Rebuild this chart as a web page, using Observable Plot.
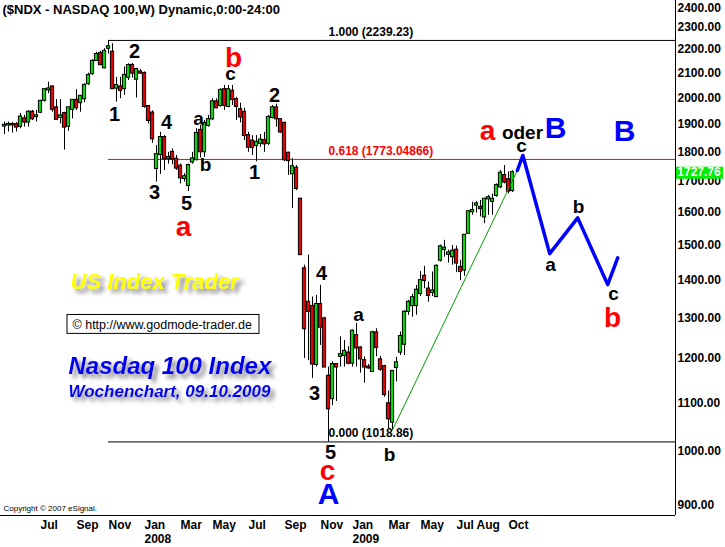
<!DOCTYPE html>
<html><head><meta charset="utf-8">
<script src="https://cdn.jsdelivr.net/npm/d3@7"></script>
<script src="https://cdn.jsdelivr.net/npm/@observablehq/plot@0.6"></script>
<style>
body{margin:0;background:#fff;}
#chart svg{display:block;}
</style>
</head><body><div id="chart"></div>
<script>
// ---- data (weekly NASDAQ 100, first week ends 2007-05-04) ----
const weekStart = "2007-05-04";
const open = [
1893,1897,1899,1898,1892,1920,1908,1945,1928,1945,
1991,2032,2044,1962,1925,1940,1892,1956,1991,1982,
1997,2057,2098,2153,2183,2122,2205,2188,2039,2044,
2037,2083,2132,2075,2105,2099,1967,1942,1742,1790,
1851,1776,1798,1774,1750,1708,1685,1764,1772,1877,
1800,1895,1920,1985,1971,2033,1967,2027,1994,1955,
1945,1858,1838,1822,1830,1840,1830,1925,1962,1917,
1903,1795,1724,1743,1640,1431,1340,1329,1186,1334,
1297,1159,1109,1186,1205,1207,1213,1189,1255,1225,
1195,1180,1170,1262,1197,1181,1098,1059,1179,1215,
1234,1316,1331,1331,1363,1410,1375,1366,1355,1455,
1486,1472,1465,1484,1435,1427,1534,1600,1621,1614,
1584,1641,1633,1652,1680,1718,1704,1668];
const high = [
1908,1908,1906,1906,1940,1933,1952,1952,1952,1991,
2037,2063,2048,1994,1994,1945,1964,1994,2033,2010,
2057,2100,2156,2188,2192,2203,2239.23,2225,2083,2083,
2125,2139,2140,2120,2115,2105,1970,1950,1822,1870,
1858,1798,1810,1787,1757,1724,1757,1798,1883,1895,
1914,1933,1997,1997,2037,2050,2050,2050,2003,1980,
1960,1870,1858,1858,1862,1870,1933,1971,1976,1920,
1908,1798,1776,1752,1643,1441,1470,1354,1358,1385,
1301,1180,1192,1188,1252,1243,1228,1269,1285,1228,
1204,1186,1266,1272,1205,1184,1126,1172,1203,1264,
1318,1345,1361,1385,1423,1438,1394,1422,1442,1499,
1513,1484,1498,1496,1455,1528,1604,1630,1633,1636,
1643,1652,1657,1690,1735,1752,1730,1734];
const low = [
1862,1871,1867,1871,1883,1889,1889,1914,1908,1940,
1984,2017,1945,1914,1901,1806,1874,1920,1952,1945,
1982,2050,2091,2150,2132,2118,2180,2033,1984,1997,
2010,2070,2080,2000,2095,1960,1901,1830,1696,1722,
1735,1757,1755,1735,1690,1696,1665,1757,1769,1778,
1780,1889,1914,1958,1964,1952,1962,1971,1914,1905,
1840,1798,1787,1765,1816,1798,1822,1920,1889,1866,
1765,1718,1610,1668,1469,1200,1195,1154,1180,1231,
1180,1018.86,1094,1103,1180,1180,1185,1180,1180,1166,
1143,1175,1170,1204,1170,1112,1046,1043,1146,1207,
1207,1306,1301,1306,1355,1376,1340,1355,1352,1450,
1464,1447,1441,1420,1398,1410,1533,1589,1596,1584,
1563,1589,1589,1646,1674,1690,1657,1662];
const close = [
1896,1899,1897,1889,1927,1908,1945,1920,1932,1987,
2033,2036,1956,1918,1931,1889,1962,1991,1962,2007,
2050,2091,2149,2178,2135,2192,2212,2037,2050,2030,
2091,2132,2100,2115,2100,1967,1914,1846,1790,1851,
1775,1780,1774,1743,1710,1714,1752,1775,1866,1800,
1903,1917,1985,1962,2030,1971,2033,1994,1967,1927,
1858,1816,1815,1834,1842,1828,1925,1962,1920,1871,
1772,1769,1748,1675,1471,1272,1316,1187,1334,1276,
1180,1087,1186,1180,1209,1217,1189,1266,1225,1199,
1180,1178,1262,1226,1175,1118,1066,1170,1190,1253,
1314,1340,1352,1372,1398,1398,1358,1370,1438,1494,
1490,1476,1481,1447,1423,1528,1600,1604,1625,1610,
1640,1645,1640,1685,1726,1696,1666,1727.76];

const priceTicks = [900,1000,1100,1200,1300,1400,1500,1600,1700,1800,1900,2000,2100,2200,2300,2400];
const monthTickDates = ["2007-07-06","2007-09-07","2007-11-02","2008-01-04","2008-03-07","2008-05-02","2008-07-04","2008-09-05","2008-11-07","2009-01-02","2009-03-06","2009-05-01","2009-07-03","2009-08-07","2009-10-02"];
const monthTickNames = ["Jul","Sep","Nov","Jan","Mar","May","Jul","Sep","Nov","Jan","Mar","May","Jul","Aug","Oct"];
const yearTickDates = ["2008-01-04","2009-01-02"];
const yearTickNames = ["2008","2009"];
const fibRatios = [1.000, 0.618, 0.000];

// trendline and forecast path (week index, price)
const trendWeeks = [97, 128.2];
const trendPrices = [1043, 1735];
const forecastWeeks = [128.2, 129.6, 136.3, 143.3, 150.8, 153.3];
const forecastPrices = [1735, 1787, 1474, 1581, 1387, 1462];

// wave labels: text, week index, price, degree
const waveText   = ["1","2","3","4","5","a","a","b","c","b","1","2","3","4","5","c","A","a","b","a","oder","B","c","a","b","c","B","b"];
const waveWeek   = [27.5,32.5,37.5,40.5,45.5,44.75,48.5,50.25,56.5,57.25,62.5,67.5,77.5,79.25,81.5,80.75,81,88.5,96.25,120.75,129.5,137.75,129.25,136.5,143.5,152.25,155,152];
const wavePrice  = [1937,2192,1662,1906,1626,1552,1918,1755,2095,2162,1728,2010,1120,1418,998,963,919,1308,994,1873,1869,1884,1822,1441,1617,1361,1873,1300];
const waveDegree = ["n","n","n","n","n","r","l","l","l","r","n","n","n","n","n","r","p","l","l","r","l","p","l","l","l","l","p","r"];

// ---- build ----
const DAY = 864e5;
const widx = d => Math.round((Date.parse(d) - Date.parse(weekStart)) / (7 * DAY));
const candles = open.map((o, i) => ({i, o, h: high[i], l: low[i], c: close[i]}));
const hi = d3.max(high), lo = d3.min(low);
const peakIdx = d3.maxIndex(high), lowIdx = d3.minIndex(low);
const fibs = fibRatios.map(r => {
  const level = lo + r * (hi - lo);
  return {level, color: r === 0.618 ? "#ff0000" : "#000000",
          label: `${r.toFixed(3)} (${String(+level.toFixed(5))})`};
});
const monthIdx = monthTickDates.map(widx);
const monthName = new Map(monthIdx.map((v, k) => [v, monthTickNames[k]]));
const yearIdx = yearTickDates.map(widx);
const yearName = new Map(yearIdx.map((v, k) => [v, yearTickNames[k]]));
const trend = trendWeeks.map((w, k) => ({w, p: trendPrices[k]}));
const forecast = forecastWeeks.map((w, k) => ({w, p: forecastPrices[k]}));
const degreeStyle = {
  n: {fill: "#000000", size: 20},
  l: {fill: "#000000", size: 19},
  r: {fill: "#ff0000", size: 28},
  p: {fill: "#0000ff", size: 30}
};
const waves = waveText.map((t, k) => ({t, w: waveWeek[k], p: wavePrice[k], d: waveDegree[k]}));
const lastClose = close[close.length - 1];
const topTick = d3.max(priceTicks);

const xMax = 167.75;
const yDomain = [881.96, 2421.6];
const GREEN = "#00dd00", RED = "#e80000";
const YELLOW = "#ffff00", BLUE_TXT = "#0000f0";

const overlay = (text, dx, dy, o = {}) => Plot.text([text], {frameAnchor: "top-left", dx, dy, textAnchor: "start", lineAnchor: "middle", ...o});

const chart = Plot.plot({
  width: 725, height: 547,
  marginTop: 0, marginRight: 50, marginBottom: 32, marginLeft: 0,
  style: {fontFamily: "'Liberation Sans', Arial, sans-serif", fontSize: "12px", fontWeight: "bold", color: "#000", background: "#fff", overflow: "visible"},
  x: {domain: [-1, xMax], axis: null},
  y: {type: "log", domain: yDomain, axis: null},
  color: {type: "identity"},
  marks: [
    // watermark texts (drop shadow added below)
    overlay("US Index Trader", 70, 281, {fill: YELLOW, fontSize: 22, fontStyle: "italic", ariaDescription: "shadowed"}),
    overlay("Nasdaq 100 Index", 68, 366, {fill: BLUE_TXT, fontSize: 24, fontStyle: "italic", ariaDescription: "shadowed"}),
    overlay("Wochenchart, 09.10.2009", 68, 391.5, {fill: BLUE_TXT, fontSize: 17, fontStyle: "italic", ariaDescription: "shadowed"}),
    Plot.rect([0], {x1: () => 15.75, x2: () => 63.75, y1: () => 1259.3, y2: () => 1306.9, fill: "#fff", stroke: "#000", strokeWidth: 1}),
    overlay("\u00a9 http://www.godmode-trader.de", 72, 324, {fill: "#000", fontSize: 12.5, fontWeight: "normal"}),
    overlay("($NDX - NASDAQ 100,W) Dynamic,0:00-24:00", 2, 9, {fill: "#000", fontSize: 13}),
    overlay("Copyright \u00a9 2007 eSignal.", 3, 507.5, {fill: "#000", fontSize: 8, fontWeight: "normal"}),
    // fibonacci levels
    Plot.ruleY(fibs, {y: "level", x1: () => peakIdx, x2: () => xMax, stroke: "color", strokeWidth: 1}),
    Plot.text(fibs, {y: "level", x: () => lowIdx, text: "label", fill: "color", textAnchor: "start", lineAnchor: "middle", dy: -8.5, fontSize: 12}),
    // candles
    Plot.ruleX(candles, {x: "i", y1: "l", y2: "h", stroke: "#000", strokeWidth: 1}),
    Plot.rect(candles, {x1: d => d.i - 0.4, x2: d => d.i + 0.4, y1: "o", y2: "c", insetTop: -0.5, insetBottom: -0.5,
      fill: d => d.c >= d.o ? GREEN : RED, stroke: "#000", strokeWidth: 1}),
    // trend line and forecast
    Plot.line(trend, {x: "w", y: "p", stroke: "#00a000", strokeWidth: 1}),
    Plot.line(forecast, {x: "w", y: "p", stroke: "#0000ff", strokeWidth: 3.5, strokeLinejoin: "round", strokeLinecap: "round"}),
    // wave labels
    Plot.text(waves, {x: "w", y: "p", text: "t", fill: d => degreeStyle[d.d].fill, fontSize: d => degreeStyle[d.d].size, lineAnchor: "middle", textAnchor: "middle"}),
    // frame lines
    Plot.ruleX([xMax], {stroke: "#000"}),
    Plot.ruleY([yDomain[0]], {stroke: "#000"}),
    // axes
    Plot.axisY(priceTicks.filter(t => t !== topTick), {anchor: "right", tickSize: 0, tickPadding: 2, tickFormat: d => d.toFixed(2), label: null, fontSize: 12}),
    Plot.axisY([topTick], {anchor: "right", tickSize: 0, tickPadding: 2, tickFormat: d => d.toFixed(2), label: null, fontSize: 12, dy: 3}),
    Plot.axisX(monthIdx, {anchor: "bottom", tickSize: 0, tickPadding: 5, tickFormat: v => monthName.get(v), textAnchor: "start", label: null, fontSize: 12}),
    Plot.axisX(yearIdx, {anchor: "bottom", tickSize: 0, tickPadding: 19, tickFormat: v => yearName.get(v), textAnchor: "start", label: null, fontSize: 12}),
    // last price box
    Plot.ruleY([lastClose], {y: d => d, x1: () => 168, x2: () => 179.75, stroke: "#00ee00", strokeWidth: 12}),
    Plot.text([lastClose], {y: d => d, x: () => 168.2, text: d => d.toFixed(2), fill: "#fff", textAnchor: "start", lineAnchor: "middle", fontSize: 12})
  ]
});

const svg = d3.select(chart);
const f = svg.insert("defs", ":first-child").append("filter").attr("id", "softshadow")
  .attr("x", "-10%").attr("y", "-40%").attr("width", "125%").attr("height", "190%");
f.append("feDropShadow").attr("dx", 4).attr("dy", 4).attr("stdDeviation", 2)
  .attr("flood-color", "#707070").attr("flood-opacity", 0.85);
svg.selectAll("g").filter(function() {
  const fill = (this.getAttribute("fill") || "").toLowerCase();
  return this.getAttribute("aria-description") === "shadowed" || fill === YELLOW || fill === BLUE_TXT;
}).attr("filter", "url(#softshadow)");
document.getElementById("chart").appendChild(chart);
</script>
</body></html>
